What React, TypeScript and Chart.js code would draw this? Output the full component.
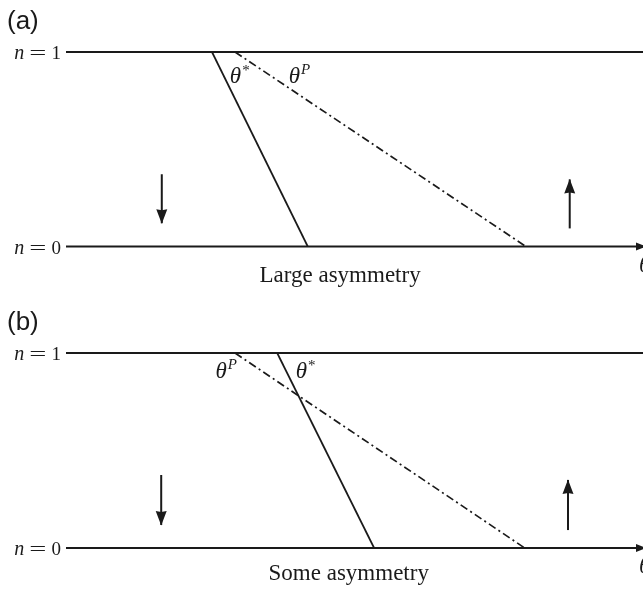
import React, { useEffect, useRef } from 'react';
import { Chart, registerables } from 'chart.js';

Chart.register(...registerables);

// ---- data ----
const N_LEVELS = [0, 1];
const THETA_RANGE = [0, 1];
const PANEL_TAGS = ['(a)', '(b)'];
const CAPTIONS = ['Large asymmetry', 'Some asymmetry'];

// boundaries: theta at n = 1, theta at n = 0
const THETA_STAR_A = [0.253, 0.419];
const THETA_P_A = [0.293, 0.797];
const THETA_STAR_B = [0.366, 0.534];
const THETA_P_B = [0.293, 0.795];

// arrows: [theta, n start, n tip]
const DOWN_ARROW_A = [0.166, 0.371, 0.119];
const UP_ARROW_A = [0.873, 0.093, 0.345];
const DOWN_ARROW_B = [0.165, 0.374, 0.118];
const UP_ARROW_B = [0.87, 0.092, 0.349];

// label anchors: [theta, n]
const STAR_LABEL_A = [0.284, 0.84];
const P_LABEL_A = [0.386, 0.84];
const STAR_LABEL_B = [0.398, 0.872];
const P_LABEL_B = [0.259, 0.872];
const CAPTION_THETA = [0.475, 0.49];

const INK = '#1a1a1a';
const SERIF = '"Liberation Serif", "Times New Roman", serif';
const SANS = '"Liberation Sans", Arial, sans-serif';

type Part = { t: string; italic?: boolean; size: number; dy?: number; gap?: number; sx?: number };

function drawParts(ctx: CanvasRenderingContext2D, x: number, y: number, parts: Part[], align: 'left' | 'right' = 'left') {
  let total = 0;
  const widths = parts.map((p) => {
    ctx.font = `${p.italic ? 'italic ' : ''}${p.size}px ${SERIF}`;
    const w = ctx.measureText(p.t).width * (p.sx || 1) + (p.gap || 0);
    total += w;
    return w;
  });
  let cx = align === 'right' ? x - total : x;
  ctx.textBaseline = 'alphabetic';
  ctx.textAlign = 'left';
  parts.forEach((p, i) => {
    ctx.font = `${p.italic ? 'italic ' : ''}${p.size}px ${SERIF}`;
    ctx.save();
    ctx.translate(cx + (p.gap || 0), y + (p.dy || 0));
    ctx.scale(p.sx || 1, 1);
    ctx.fillText(p.t, 0, 0);
    ctx.restore();
    cx += widths[i];
  });
}

function seg(x: number[], extra: any = {}) {
  return {
    data: [
      { x: x[0], y: N_LEVELS[1] },
      { x: x[1], y: N_LEVELS[0] },
    ],
    showLine: true,
    borderColor: INK,
    borderWidth: 1.7,
    pointRadius: 0,
    tension: 0,
    clip: false,
    ...extra,
  };
}

function arrow(a: number[]) {
  return {
    data: [
      { x: a[0], y: a[1] },
      { x: a[0], y: a[2] },
    ],
    showLine: true,
    borderColor: INK,
    borderWidth: 2,
    pointRadius: 0,
    clip: false,
  };
}

type PanelSpec = {
  tag: string;
  caption: string;
  captionTheta: number;
  captionDy: number;
  star: number[];
  p: number[];
  down: number[];
  up: number[];
  starLabel: number[];
  pLabel: number[];
  height: number;
  padTop: number;
  padBottom: number;
  tagBaseline: number;
};

function makePlugin(s: PanelSpec) {
  return {
    id: 'schematic',
    afterDatasetsDraw(chart: any) {
      const ctx: CanvasRenderingContext2D = chart.ctx;
      const xs = chart.scales.x;
      const ys = chart.scales.y;
      ctx.save();
      ctx.fillStyle = INK;
      // arrow heads on vertical arrows
      [s.down, s.up].forEach((a) => {
        const px = xs.getPixelForValue(a[0]);
        const tip = ys.getPixelForValue(a[2]);
        const dir = a[2] < a[1] ? 1 : -1; // +1 pointing down in pixels
        const len = 14;
        const hw = 5.5;
        ctx.beginPath();
        ctx.moveTo(px, tip + dir * 0.5);
        ctx.lineTo(px - hw, tip - dir * len);
        ctx.lineTo(px, tip - dir * (len - 1));
        ctx.lineTo(px + hw, tip - dir * len);
        ctx.closePath();
        ctx.fill();
      });
      // arrow head on theta axis
      const ay = ys.getPixelForValue(N_LEVELS[0]);
      const ax = xs.getPixelForValue(THETA_RANGE[1]) + 3;
      ctx.beginPath();
      ctx.moveTo(ax, ay);
      ctx.lineTo(ax - 10, ay - 4);
      ctx.lineTo(ax - 10, ay + 4);
      ctx.closePath();
      ctx.fill();

      // n labels
      const lx = xs.getPixelForValue(THETA_RANGE[0]) - 5;
      N_LEVELS.forEach((n) => {
        const py = ys.getPixelForValue(n) + 7;
        drawParts(ctx, lx, py, [
          { t: 'n', italic: true, size: 20 },
          { t: '=', size: 19, gap: 5, sx: 1.6 },
          { t: String(n), size: 19, gap: 5 },
        ], 'right');
      });

      // theta labels
      const sx = xs.getPixelForValue(s.starLabel[0]);
      const sy = ys.getPixelForValue(s.starLabel[1]);
      drawParts(ctx, sx, sy, [
        { t: 'θ', italic: true, size: 23 },
        { t: '*', size: 15, dy: -8, gap: 1 },
      ]);
      const qx = xs.getPixelForValue(s.pLabel[0]);
      const qy = ys.getPixelForValue(s.pLabel[1]);
      drawParts(ctx, qx, qy, [
        { t: 'θ', italic: true, size: 23 },
        { t: 'P', italic: true, size: 15, dy: -9, gap: 1 },
      ]);

      // theta axis label (clipped at right edge)
      drawParts(ctx, ax - 7, ay + 25, [{ t: 'θ', italic: true, size: 23 }]);

      // caption
      ctx.font = `23px ${SERIF}`;
      ctx.textAlign = 'center';
      ctx.textBaseline = 'alphabetic';
      ctx.fillText(s.caption, xs.getPixelForValue(s.captionTheta), ay + s.captionDy);

      // panel tag
      ctx.font = `26px ${SANS}`;
      ctx.textAlign = 'left';
      ctx.fillText(s.tag, 7, s.tagBaseline);
      ctx.restore();
    },
  };
}

function Panel({ spec }: { spec: PanelSpec }) {
  const ref = useRef<HTMLCanvasElement | null>(null);
  useEffect(() => {
    if (!ref.current) return;
    const chart = new Chart(ref.current, {
      type: 'scatter',
      data: {
        datasets: [
          {
            data: [
              { x: THETA_RANGE[0], y: N_LEVELS[1] },
              { x: THETA_RANGE[1], y: N_LEVELS[1] },
            ],
            showLine: true,
            borderColor: INK,
            borderWidth: 2.2,
            pointRadius: 0,
            clip: false,
          },
          {
            data: [
              { x: THETA_RANGE[0], y: N_LEVELS[0] },
              { x: THETA_RANGE[1], y: N_LEVELS[0] },
            ],
            showLine: true,
            borderColor: INK,
            borderWidth: 2.2,
            pointRadius: 0,
            clip: false,
          },
          seg(spec.star),
          seg(spec.p, { borderDash: [8, 3.5, 2, 3.5], borderWidth: 1.7 }),
          arrow(spec.down),
          arrow(spec.up),
        ] as any,
      },
      options: {
        animation: false,
        responsive: false,
        devicePixelRatio: 1,
        events: [],
        layout: { padding: { top: spec.padTop, bottom: spec.padBottom, left: 66, right: 0 } },
        scales: {
          x: { type: 'linear', min: THETA_RANGE[0], max: THETA_RANGE[1], display: false },
          y: { type: 'linear', min: N_LEVELS[0], max: N_LEVELS[1], display: false },
        },
        plugins: { legend: { display: false }, tooltip: { enabled: false } },
      },
      plugins: [makePlugin(spec)],
    } as any);
    return () => chart.destroy();
  }, []);
  return (
    <canvas
      ref={ref}
      width={643}
      height={spec.height}
      style={{ display: 'block', width: 643, height: spec.height }}
    />
  );
}

const SPECS: PanelSpec[] = [
  {
    tag: PANEL_TAGS[0],
    caption: CAPTIONS[0],
    captionTheta: CAPTION_THETA[0],
    captionDy: 35,
    star: THETA_STAR_A,
    p: THETA_P_A,
    down: DOWN_ARROW_A,
    up: UP_ARROW_A,
    starLabel: STAR_LABEL_A,
    pLabel: P_LABEL_A,
    height: 290,
    padTop: 52,
    padBottom: 43.5,
    tagBaseline: 29,
  },
  {
    tag: PANEL_TAGS[1],
    caption: CAPTIONS[1],
    captionTheta: CAPTION_THETA[1],
    captionDy: 32,
    star: THETA_STAR_B,
    p: THETA_P_B,
    down: DOWN_ARROW_B,
    up: UP_ARROW_B,
    starLabel: STAR_LABEL_B,
    pLabel: P_LABEL_B,
    height: 301,
    padTop: 63,
    padBottom: 43,
    tagBaseline: 40,
  },
];

export default function App() {
  return (
    <div style={{ position: 'absolute', left: 0, top: 0, width: 643, height: 591, background: '#fff', overflow: 'hidden' }}>
      {SPECS.map((s) => (
        <Panel key={s.tag} spec={s} />
      ))}
    </div>
  );
}
